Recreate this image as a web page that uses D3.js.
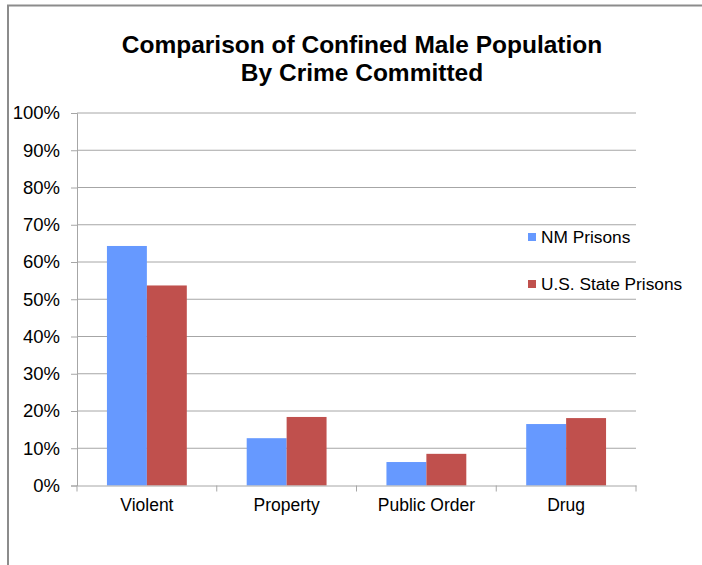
<!DOCTYPE html>
<html>
<head>
<meta charset="utf-8">
<script src="https://cdn.jsdelivr.net/npm/d3@7"></script>
<style>
  body { margin: 0; background: #fff; }
  text { font-family: "Liberation Sans", Arial, sans-serif; fill: #000; }
</style>
</head>
<body>
<svg id="chart" width="702" height="565"></svg>
<script>
let categories = ['Violent', 'Property', 'Public Order', 'Drug']
let seriesNames = ['NM Prisons', 'U.S. State Prisons']
let nmValues = [64.3, 12.7, 6.3, 16.5]
let usValues = [53.7, 18.4, 8.5, 18.1]
let yTicks = [0, 10, 20, 30, 40, 50, 60, 70, 80, 90, 100]
let colors = ['#6699FF', '#C0504D']

let svg = d3.select('#chart')

// chart frame (only top and left edges visible)
svg.append('path')
  .attr('d', 'M8,565 V5.5 H702')
  .attr('fill', 'none')
  .attr('stroke', '#8c8c8c')
  .attr('stroke-width', 2)

let plotLeft = 77, plotRight = 636, plotTop = 113, plotBottom = 485.5

let x = d3.scaleBand().domain(categories).range([plotLeft, plotRight])
let xInner = d3.scaleBand().domain([0, 1]).range([0, x.bandwidth()]).paddingInner(0).paddingOuter(0.75)
let y = d3.scaleLinear().domain([0, 100]).range([plotBottom, plotTop])

// gridlines
svg.append('g')
  .selectAll('line').data(yTicks.slice(1)).enter().append('line')
  .attr('x1', plotLeft).attr('x2', plotRight)
  .attr('y1', d => y(d)).attr('y2', d => y(d))
  .attr('stroke', '#a6a6a6')
  .attr('stroke-width', 1)

// y axis
let yAxis = svg.append('g')
  .attr('transform', `translate(${plotLeft},0)`)
  .call(d3.axisLeft(y).tickValues(yTicks).tickFormat(d => d + '%').tickSize(6).tickPadding(11))
yAxis.select('.domain').attr('stroke', '#a6a6a6')
yAxis.selectAll('.tick line').attr('stroke', '#a6a6a6')
yAxis.selectAll('text').style('font-size', '18.5px').attr('fill', '#000')

// bars
let groups = svg.append('g').selectAll('g').data(categories).enter().append('g')
  .attr('transform', d => `translate(${x(d)},0)`)

groups.selectAll('rect')
  .data((d, i) => [nmValues[i], usValues[i]])
  .enter().append('rect')
  .attr('x', (d, i) => xInner(i))
  .attr('width', xInner.bandwidth())
  .attr('y', d => y(d))
  .attr('height', d => plotBottom - y(d))
  .attr('fill', (d, i) => colors[i])

// x axis
let xAxis = svg.append('g')
  .attr('transform', `translate(0,${plotBottom})`)
  .call(d3.axisBottom(x).tickSize(0).tickPadding(13))
xAxis.select('.domain').attr('stroke', '#a6a6a6')
xAxis.selectAll('text').style('font-size', '17.5px').attr('fill', '#000')
xAxis.selectAll('.sep').data(d3.range(categories.length + 1)).enter().append('line')
  .attr('x1', i => plotLeft + i * x.step()).attr('x2', i => plotLeft + i * x.step())
  .attr('y1', 0).attr('y2', 6)
  .attr('stroke', '#a6a6a6')

// legend
let legend = svg.append('g').selectAll('g').data(seriesNames).enter().append('g')
  .attr('transform', (d, i) => `translate(528,${237 + i * 47})`)
legend.append('rect')
  .attr('x', 0).attr('y', -4).attr('width', 8).attr('height', 8)
  .attr('fill', (d, i) => colors[i])
legend.append('text')
  .attr('x', 13).attr('y', 6)
  .style('font-size', '17.3px')
  .text(d => d)

// title
svg.append('text')
  .attr('x', 362).attr('y', 53)
  .attr('text-anchor', 'middle')
  .style('font-size', '24.5px').style('font-weight', 'bold')
  .text('Comparison of Confined Male Population')
svg.append('text')
  .attr('x', 362).attr('y', 81)
  .attr('text-anchor', 'middle')
  .style('font-size', '24.5px').style('font-weight', 'bold')
  .text('By Crime Committed')
</script>
</body>
</html>
